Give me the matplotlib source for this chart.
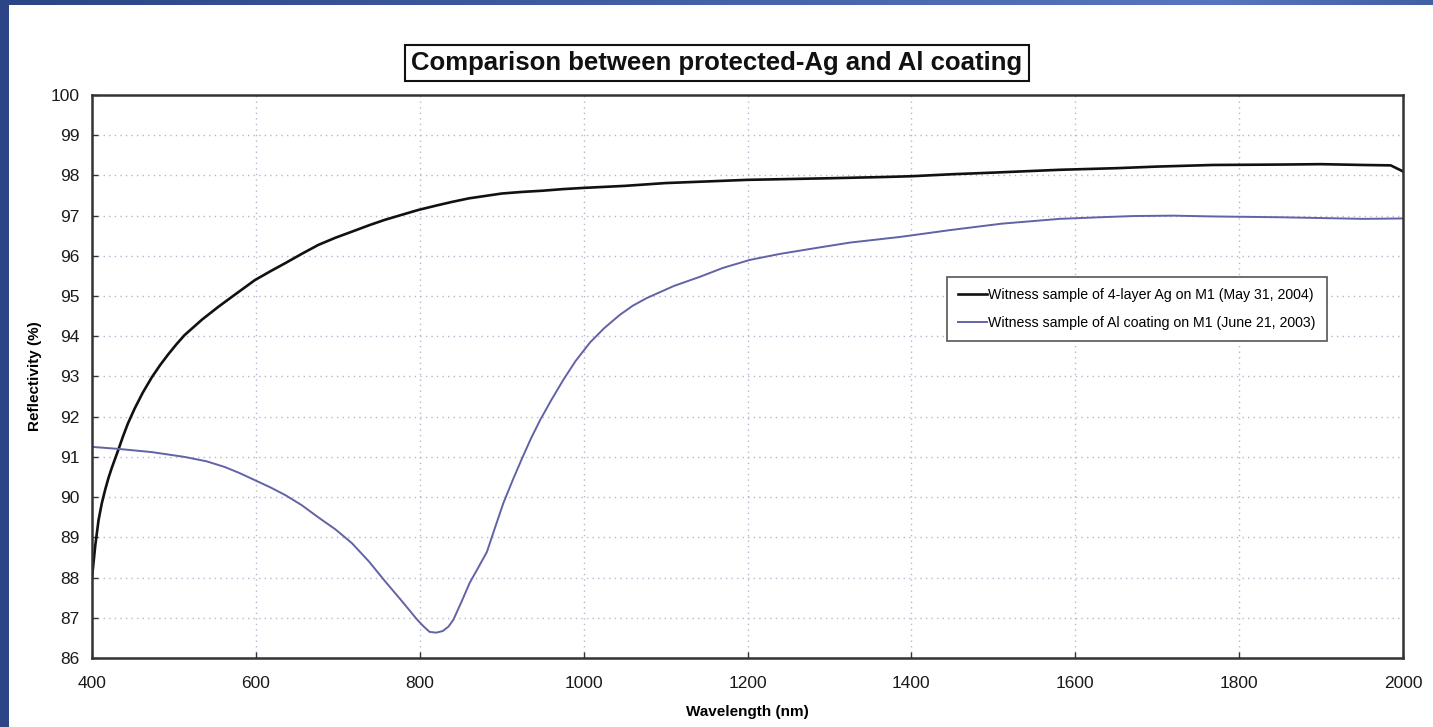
import numpy as np
import matplotlib
matplotlib.use("Agg")
import matplotlib.pyplot as plt
from matplotlib.patches import Rectangle
from matplotlib.colors import LinearSegmentedColormap

# ---- data ----
ag_wavelength = [400, 404, 408, 412, 416, 420, 424, 432, 438, 444, 452, 462, 473, 483,
                 493, 503, 513, 534, 554, 574, 599, 618, 636, 656, 676, 697, 717, 738,
                 758, 778, 798, 820, 839, 860, 880, 900, 925, 950, 975, 1000, 1050,
                 1100, 1150, 1200, 1250, 1300, 1365, 1400, 1450, 1500, 1581, 1650,
                 1700, 1768, 1850, 1900, 1951, 1985, 2000]
ag_reflect = [88.0, 88.8, 89.43, 89.85, 90.18, 90.47, 90.72, 91.17, 91.52, 91.84, 92.2,
              92.6, 92.98, 93.28, 93.55, 93.8, 94.03, 94.41, 94.73, 95.03, 95.4, 95.62,
              95.82, 96.05, 96.27, 96.45, 96.6, 96.76, 96.9, 97.02, 97.14, 97.25,
              97.34, 97.43, 97.49, 97.55, 97.59, 97.62, 97.66, 97.69, 97.74, 97.81,
              97.85, 97.89, 97.91, 97.93, 97.96, 97.98, 98.03, 98.07, 98.14, 98.18,
              98.22, 98.26, 98.27, 98.28, 98.26, 98.25, 98.10]

al_wavelength = [400, 432, 473, 513, 540, 562, 580, 599, 618, 636, 656, 676, 697, 717,
                 738, 758, 778, 797, 805, 812, 820, 828, 835, 841, 851, 861, 872, 882,
                 892, 902, 914, 925, 936, 947, 961, 975, 990, 1008, 1025, 1044, 1060,
                 1077, 1110, 1142, 1170, 1203, 1240, 1285, 1325, 1386, 1447, 1510,
                 1581, 1630, 1671, 1720, 1768, 1850, 1951, 2000]
al_reflect = [91.25, 91.2, 91.12, 91.0, 90.89, 90.75, 90.6, 90.42, 90.24, 90.05, 89.8,
              89.5, 89.2, 88.86, 88.4, 87.9, 87.42, 86.95, 86.78, 86.65, 86.63, 86.67,
              86.78, 86.95, 87.4, 87.87, 88.27, 88.64, 89.25, 89.85, 90.45, 90.97,
              91.47, 91.92, 92.43, 92.91, 93.38, 93.85, 94.2, 94.53, 94.76, 94.95,
              95.25, 95.48, 95.7, 95.9, 96.05, 96.2, 96.33, 96.47, 96.64, 96.8, 96.92,
              96.96, 96.99, 97.0, 96.98, 96.96, 96.92, 96.93]

x_ticks = [400, 600, 800, 1000, 1200, 1400, 1600, 1800, 2000]
y_ticks = list(range(86, 101))

title_text = "Comparison between protected-Ag and Al coating"
label_ag = "Witness sample of 4-layer Ag on M1 (May 31, 2004)"
label_al = "Witness sample of Al coating on M1 (June 21, 2003)"

plt.rcParams['font.family'] = ['Liberation Sans', 'DejaVu Sans']

W, H = 1433, 727
fig = plt.figure(figsize=(W / 100, H / 100), dpi=100)

# ---- blue gradient frame background ----
bg = fig.add_axes([0, 0, 1, 1], zorder=-10)
gx = np.linspace(0, 1, 300)
top_row = np.interp(gx, [0, 0.5, 0.85, 1.0], [0.0, 0.6, 1.0, 0.55])
grad = np.tile(top_row, (50, 1))
grad[:, :3] = 0.0
cm = LinearSegmentedColormap.from_list("bl", ["#2b4586", "#5676bf"])
bg.imshow(grad, aspect='auto', cmap=cm, extent=[0, 1, 0, 1], vmin=0, vmax=1)
bg.set_xlim(0, 1); bg.set_ylim(0, 1)
bg.axis('off')
bg.add_patch(Rectangle((9 / W, 0), 1 - 9 / W, 1 - 5 / H, facecolor='white',
                       edgecolor='none', transform=bg.transAxes, zorder=5))

# ---- main axes ----
ax = fig.add_axes([92 / W, 1 - 658 / H, (1403 - 92) / W, (658 - 95) / H])
ax.plot(ag_wavelength, ag_reflect, color='#111111', lw=1.9, label=label_ag)
ax.plot(al_wavelength, al_reflect, color='#6262a6', lw=1.4, label=label_al)

ax.set_xlim(400, 2000)
ax.set_ylim(86, 100)
ax.set_xticks(x_ticks)
ax.set_yticks(y_ticks)
ax.tick_params(direction='in', length=4, width=1, color='#333333', labelsize=12.5,
               labelcolor='#1a1a1a')
ax.tick_params(axis='x', pad=13)
ax.tick_params(axis='y', pad=9)
ax.grid(True, linestyle=(0, (1, 3)), color='#b9b4d2', lw=1.0)
for s in ax.spines.values():
    s.set_color('#333333')
    s.set_linewidth(1.8)

ax.set_xlabel("Wavelength (nm)", fontsize=11, fontweight='bold', labelpad=10)
ax.set_ylabel("Reflectivity (%)", fontsize=11, fontweight='bold', labelpad=6)

leg = ax.legend(loc='upper left', bbox_to_anchor=((947 - 92) / (1403 - 92), 1 - (277 - 95) / (658 - 95)),
                fontsize=10.2, frameon=True, fancybox=False, handlelength=2.0,
                handletextpad=0.1, borderpad=0.8, labelspacing=0.95, borderaxespad=0)
leg.get_frame().set_edgecolor('#555555')
leg.get_frame().set_linewidth(1.2)
leg.get_frame().set_facecolor('white')
leg.get_frame().set_alpha(1)

fig.text(717 / W, 1 - 63 / H, title_text, ha='center', va='center', fontsize=18.5,
         fontweight='bold', color='#111111',
         bbox=dict(boxstyle='square,pad=0.25', facecolor='white', edgecolor='#111111', lw=1.5))

fig.savefig("out.png", dpi=100)
